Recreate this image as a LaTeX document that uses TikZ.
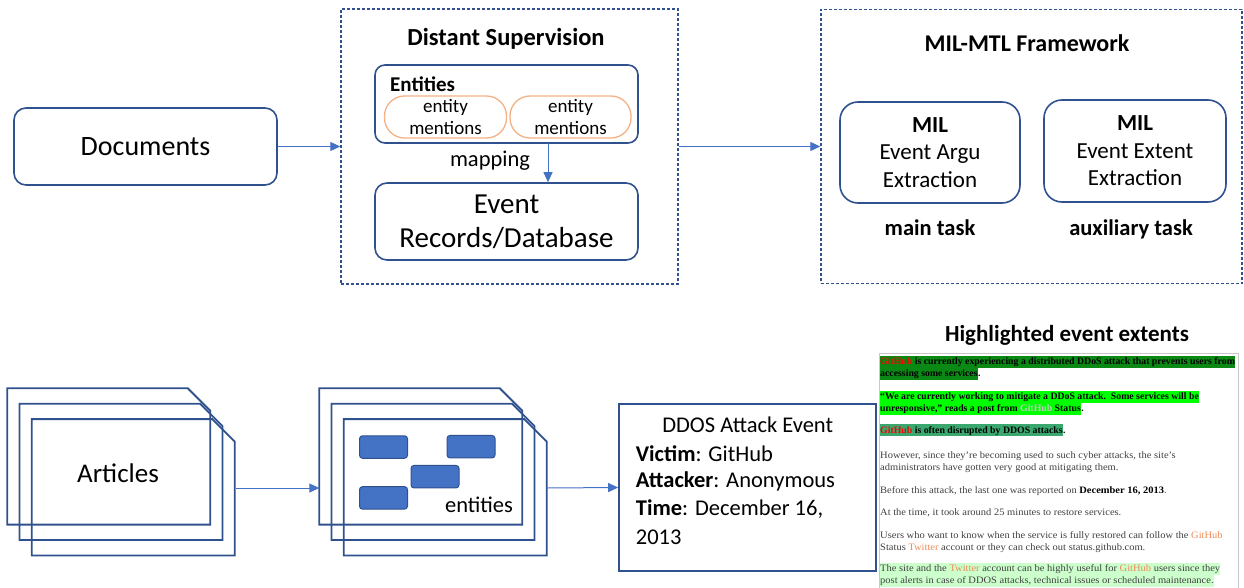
\documentclass[tikz,border=0pt]{standalone}
\usepackage{fontspec}
\setmainfont{Carlito}
\newfontfamily\parafont[FakeStretch=1.07]{Liberation Serif}
\newfontfamily\paraboldfont{Liberation Serif}
\usepackage{xcolor}
\usetikzlibrary{arrows.meta}
\definecolor{boxblue}{HTML}{2F528F}
\definecolor{arrblue}{HTML}{4472C4}
\definecolor{pillorange}{HTML}{F4B183}
\definecolor{hldark}{HTML}{0A8A14}
\definecolor{hlbright}{HTML}{00FF00}
\definecolor{hlmid}{HTML}{3AA86E}
\definecolor{hllight}{HTML}{CCFFCC}
\definecolor{ghorange}{HTML}{EE8A55}
\definecolor{ghgray}{HTML}{C8C8C8}
\definecolor{txtgray}{HTML}{404040}
\definecolor{framegray}{HTML}{C8C8C8}

\begin{document}
\begin{tikzpicture}[x=1pt,y=-1pt,
        rbox/.style={draw=boxblue,line width=1.6pt,rounded corners=12pt,align=center},
        dbox/.style={draw=boxblue,line width=1.4pt,dash pattern=on 3pt off 2pt},
        pill/.style={draw=pillorange,line width=1.3pt,rounded corners=20pt,align=center,font=\fontsize{19}{21.7}\selectfont},
        arr/.style={draw=arrblue,line width=1pt,-{Triangle[length=10pt,width=9pt]}},
        sheetline/.style={draw=boxblue,line width=1.8pt},
        entbox/.style={draw=boxblue,fill=arrblue,line width=1pt,rounded corners=3pt,minimum width=48pt,minimum height=22.5pt},
        para/.style={anchor=base west,inner sep=0pt,text height=8.8pt,text depth=3pt,text=txtgray,font=\parafont\fontsize{9.8}{11}\selectfont},
        parab/.style={para,text=black,font=\paraboldfont\bfseries\fontsize{9.8}{11}\selectfont},
        evline/.style={anchor=west,inner sep=0pt,font=\fontsize{22.5}{27}\selectfont}]
        \useasboundingbox (0,0) rectangle (1244,588);
        \node[rbox,minimum width=263pt,minimum height=77pt,font=\fontsize{28}{32}\selectfont](doc) at (145.5,146.5) {Documents};
        \node[dbox,minimum width=337pt,minimum height=275pt](ds) at (509.5,146.5) {};
        \node[font=\bfseries\fontsize{24.5}{28}\selectfont](dstitle) at (506,39) {Distant Supervision};
        \node[rbox,rounded corners=10pt,minimum width=263pt,minimum height=78pt](ents) at (506.5,104) {};
        \node[anchor=west,inner sep=0pt,font=\bfseries\fontsize{21}{24}\selectfont](entstitle) at (390,84) {Entities};
        \node[pill,minimum width=122pt,minimum height=42pt](pa) at (445.5,117) {entity\\mentions};
        \node[pill,minimum width=121pt,minimum height=42pt](pb) at (570.5,117) {entity\\mentions};
        \node[rbox,minimum width=263pt,minimum height=77pt,font=\fontsize{29}{34}\selectfont](rec) at (506.5,221.5) {Event\\Records/Database};
        \coordinate(maptop) at (548,143);
        \draw[arr](maptop)--(maptop |- rec.north);
        \node[font=\fontsize{22.5}{26}\selectfont](maplabel) at (490,161) {mapping};
        \node[dbox,minimum width=421pt,minimum height=274pt](mil) at (1031.5,146.5) {};
        \node[font=\bfseries\fontsize{24}{28}\selectfont](miltitle) at (1027,43) {MIL-MTL Framework};
        \node[rbox,rounded corners=18pt,minimum width=180pt,minimum height=101pt,font=\fontsize{23}{27.5}\selectfont](argu) at (930,152.5) {\textbf{MIL}\\Event Argu\\Extraction};
        \node[rbox,rounded corners=18pt,minimum width=182pt,minimum height=102pt,font=\fontsize{23}{27.5}\selectfont](extent) at (1135,151) {\textbf{MIL}\\Event Extent\\Extraction};
        \node[font=\bfseries\fontsize{22.5}{26}\selectfont](maintask) at (930,228) {main task};
        \node[font=\bfseries\fontsize{22.5}{26}\selectfont](auxtask) at (1131,229) {auxiliary task};
        \draw[arr](doc)--(ds);
        \draw[arr](ds)--(mil);
        \foreach \i in {0,1,2} {
            \draw[sheetline] ({7.3+12.2*\i},{388.3+15.4*\i}) -- ++(180.5,0) -- ++(22.5,22.5) -- ++(0,113.8) -- ++(-203,0) -- cycle;
            \draw[sheetline] ({319.3+12.2*\i},{388.3+15.4*\i}) -- ++(180.5,0) -- ++(22.5,22.5) -- ++(0,113.8) -- ++(-203,0) -- cycle;
        }
        \node[font=\fontsize{27}{30}\selectfont](articles) at (118,473) {Articles};
        \node[entbox](e1) at (383.5,447) {};
        \node[entbox](e2) at (471,446.7) {};
        \node[entbox](e3) at (435,476.7) {};
        \node[entbox](e4) at (383.5,497.9) {};
        \node[font=\fontsize{22.5}{26}\selectfont](entlabel) at (479,505) {entities};
        \coordinate(artR) at (235.7,488);
        \coordinate(entL) at (319.3,488);
        \coordinate(entR) at (547.5,488);
        \node[draw=boxblue,line width=1.6pt,minimum width=257pt,minimum height=167pt](ev) at (747.5,487.5) {};
        \draw[arr](artR)--(entL);
        \draw[arr](entR)--(ev.west);
        \node[font=\fontsize{22.5}{27}\selectfont](evtitle) at (747.7,425) {DDOS Attack Event};
        \node[evline](evvictim) at (635.7,453.5) {\textbf{Victim}: GitHub};
        \node[evline](evattacker) at (635.7,481.5) {\textbf{Attacker}: Anonymous};
        \node[evline](evtime) at (635.7,509) {\textbf{Time}: December 16,};
        \node[evline](evyear) at (635.7,537) {2013};
        \node[font=\bfseries\fontsize{23}{26}\selectfont](hltitle) at (1067,335) {Highlighted event extents};
        \draw[framegray,line width=1pt] (879,590) -- (879,353) -- (1238,353) -- (1238,590);
        \node[parab,fill=hldark](h1a) at (880,364.5) {\textcolor{red}{GitHub} is currently experiencing a distributed DDoS attack that prevents users from};
        \node[parab,fill=hldark](h1b) at (880,376.5) {accessing some services};
        \node[parab](h1c) at (h1b.base east) {.};
        \node[parab,fill=hlbright](h2a) at (880,399.5) {“We are currently working to mitigate a DDoS attack.\ \ Some services will be};
        \node[parab,fill=hlbright](h2b) at (880,411.5) {unresponsive,” reads a post from \textcolor{ghgray}{GitHub} Status};
        \node[parab](h2c) at (h2b.base east) {.};
        \node[parab,fill=hlmid](h3a) at (880,433) {\textcolor{red}{GitHub} is often disrupted by DDOS attacks};
        \node[parab](h3b) at (h3a.base east) {.};
        \node[para](p4a) at (880,458) {However, since they’re becoming used to such cyber attacks, the site’s};
        \node[para](p4b) at (880,470) {administrators have gotten very good at mitigating them.};
        \node[para](p5) at (880,493) {Before this attack, the last one was reported on \textbf{\color{black}December 16, 2013}.};
        \node[para](p6) at (880,515) {At the time, it took around 25 minutes to restore services.};
        \node[para](p7a) at (880,538.5) {Users who want to know when the service is fully restored can follow the \textcolor{ghorange}{GitHub}};
        \node[para](p7b) at (880,550.5) {Status \textcolor{ghorange}{Twitter} account or they can check out status.github.com.};
        \node[para,fill=hllight](p8a) at (880,571.5) {The site and the \textcolor{ghorange}{Twitter} account can be highly useful for \textcolor{ghorange}{GitHub} users since they};
        \node[para,fill=hllight](p8b) at (880,583.5) {post alerts in case of DDOS attacks, technical issues or scheduled maintenance.};
\end{tikzpicture}
\end{document}
